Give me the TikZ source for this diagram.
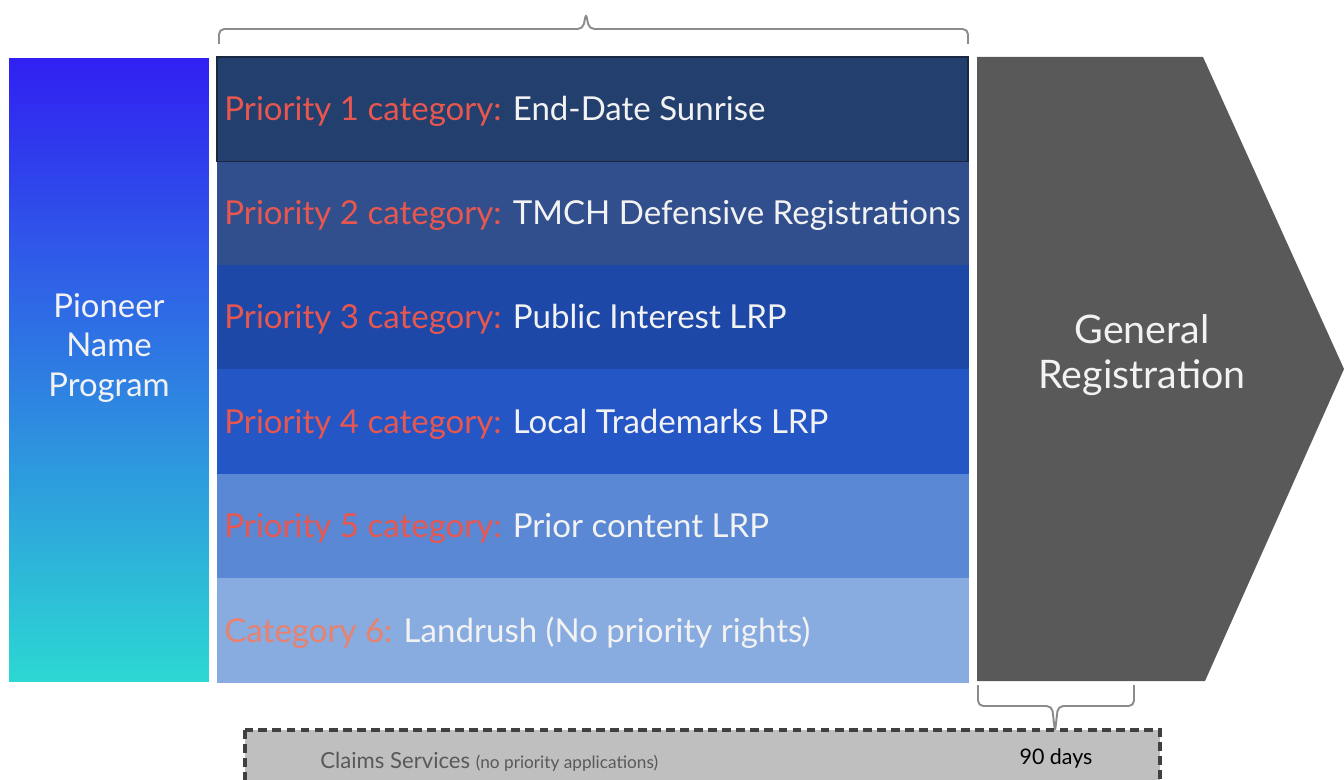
\documentclass[tikz,border=0pt]{standalone}
\usepackage{fontspec}
\setmainfont{Lato}

\definecolor{faixaA}{HTML}{233F6D}
\definecolor{faixaB}{HTML}{314F8C}
\definecolor{faixaC}{HTML}{1D48A8}
\definecolor{faixaD}{HTML}{2456C6}
\definecolor{faixaE}{HTML}{5B88D4}
\definecolor{faixaF}{HTML}{88ABE0}
\definecolor{faixaBorda}{HTML}{1A2740}
\definecolor{vermelho}{HTML}{E8574F}
\definecolor{salmao}{HTML}{E8826F}
\definecolor{cinzaSeta}{HTML}{595959}
\definecolor{cinzaChave}{HTML}{8C8C8C}
\definecolor{cinzaCaixa}{HTML}{BFBFBF}
\definecolor{textoClaro}{HTML}{F2F2F2}
\definecolor{gradTopo}{HTML}{3020F2}
\definecolor{gradMeio}{HTML}{2C84E4}
\definecolor{gradBase}{HTML}{2CD8D3}

\begin{document}
\begin{tikzpicture}[x=0.02cm,y=-0.02cm,
	faixa/.style={minimum width=15.02cm,minimum height=2.086cm,inner sep=0pt,outer sep=0pt,line width=0.5pt},
	rotulo/.style={anchor=west,inner sep=0pt,text=textoClaro,font=\fontsize{18.8}{22}\selectfont},
	chave/.style={draw=cinzaChave,line width=1.1pt,rounded corners=3pt}]
	
	% area da figura
	\useasboundingbox (0,0) rectangle (1344,780);
	\clip (0,0) rectangle (1344,780);
	
	% coluna da esquerda
	\node[minimum width=4cm,minimum height=12.48cm,inner sep=0pt,
		top color=gradTopo,middle color=gradMeio,bottom color=gradBase] (pioneer) at (109,370) {};
	\node[align=center,text=textoClaro,font=\fontsize{18.7}{22.7}\selectfont] (pioneerTxt) at (109,348) {Pioneer\\Name\\Program};
	
	% faixas de prioridade
	\foreach \i/\cor/\cat/\rc/\txt in {
		1/faixaA/Priority 1 category:/vermelho/End-Date Sunrise,
		2/faixaB/Priority 2 category:/vermelho/TMCH Defensive Registrations,
		3/faixaC/Priority 3 category:/vermelho/Public Interest LRP,
		4/faixaD/Priority 4 category:/vermelho/Local Trademarks LRP,
		5/faixaE/Priority 5 category:/vermelho/Prior content LRP,
		6/faixaF/Category 6:/salmao/Landrush (No priority rights)}{
		\node[faixa,fill=\cor,draw=\cor] (p\i) at (592.5,{4.85+104.3*\i}) {};
		\node[rotulo] (t\i) at ([xshift=0.14cm,yshift=-0.04cm]p\i.west) {\textcolor{\rc}{\cat} \txt};
	}
	\draw[faixaBorda,line width=0.8pt] (p1.north west) rectangle (p1.south east);
	
	% seta da registracao geral
	\fill[cinzaSeta] (977,57) -- (1203,57) -- (1344,369) -- (1205,681) -- (977,681) -- cycle;
	\node[align=center,text=textoClaro,font=\fontsize{22.4}{25.5}\selectfont] (geral) at (1142,355) {General\\Registration};
	
	% chaves
	\coordinate (chaveE) at (219,44);
	\coordinate (chaveD) at (968,44);
	\coordinate (chaveP) at (586,13);
	\draw[chave] (chaveE) |- (583,29) -- (chaveP) -- (589,29) -| (chaveD);
	\coordinate (diasE) at (978,685);
	\coordinate (diasD) at (1134,685);
	\coordinate (diasP) at (1055,732);
	\draw[chave] (diasE) |- (1052,706) -- (diasP) -- (1058,706) -| (diasD);
	
	% caixa tracejada
	\draw[fill=cinzaCaixa,draw=black!75,line width=1.8pt,dash pattern=on 5pt off 3pt] (245,730) rectangle (1160,810);
	\node[anchor=west,inner sep=0pt,text=black!65] (claims) at (320,762)
		{\fontsize{12.6}{14}\selectfont Claims Services {\fontsize{9.8}{11}\selectfont(no priority applications)}};
	\node[inner sep=0pt,font=\fontsize{12.2}{14}\selectfont] (dias) at (1056,758) {90 days};
	
\end{tikzpicture}
\end{document}
